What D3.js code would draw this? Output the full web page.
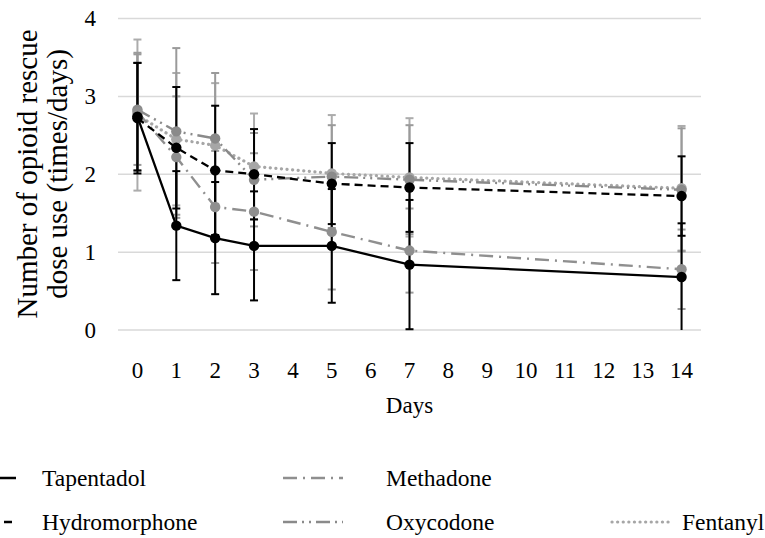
<!DOCTYPE html>
<html lang="en">
<head>
<meta charset="UTF-8">
<title>Opioid rescue dose use</title>
<script src="https://d3js.org/d3.v7.min.js"></script>
<style>
  body { margin: 0; background: #fff; }
</style>
</head>
<body>
<div id="chart"></div>
<script>
    // x categories (days 0..14) and the days that were measured
    const dayTicks = ["0","1","2","3","4","5","6","7","8","9","10","11","12","13","14"];
    const days = ["0","1","2","3","5","7","14"];
    const yTicks = [0, 1, 2, 3, 4];

    // mean rescue doses per day, and the error bar size (SD)
    const tapentadol      = [2.74, 1.34, 1.18, 1.08, 1.08, 0.84, 0.68];
    const tapentadolSd    = [0.69, 0.70, 0.72, 0.70, 0.73, 0.83, 0.69];
    const hydromorphone   = [2.72, 2.34, 2.05, 2.00, 1.88, 1.83, 1.72];
    const hydromorphoneSd = [0.71, 0.78, 0.83, 0.58, 0.52, 0.57, 0.51];
    const methadone       = [2.80, 2.22, 1.58, 1.52, 1.26, 1.02, 0.78];
    const methadoneSd     = [0.76, 0.78, 0.72, 0.75, 0.74, 0.54, 0.51];
    const oxycodone       = [2.83, 2.55, 2.46, 1.93, 1.97, 1.93, 1.80];
    const oxycodoneSd     = [0.71, 1.07, 0.84, 0.60, 0.66, 0.70, 0.79];
    const fentanyl        = [2.76, 2.45, 2.37, 2.10, 2.01, 1.96, 1.82];
    const fentanylSd      = [0.97, 0.85, 0.80, 0.68, 0.75, 0.76, 0.80];

    const width = 765;
    const height = 538;
    const serif = "\"Liberation Serif\"";

    // drawn grey first so black series sit on top, like the original
    const series = [
        { name: "Fentanyl", values: fentanyl, sd: fentanylSd, color: "#a6a6a6", marker: "#a6a6a6", bar: "#acacac", dash: "0.1,5.5", cap: "round", w: 3.2 },
        { name: "Oxycodone", values: oxycodone, sd: oxycodoneSd, color: "#8a8a8a", marker: "#8a8a8a", bar: "#9a9a9a", dash: "14,5,2,5,2,5", cap: "butt", w: 2.4 },
        { name: "Methadone", values: methadone, sd: methadoneSd, color: "#8f8f8f", marker: "#8f8f8f", bar: "#9a9a9a", dash: "14,6,2,6", cap: "butt", w: 2.4 },
        { name: "Hydromorphone", values: hydromorphone, sd: hydromorphoneSd, color: "#000", marker: "#000", bar: "#000", dash: "8,5", cap: "butt", w: 2.3 },
        { name: "Tapentadol", values: tapentadol, sd: tapentadolSd, color: "#000", marker: "#000", bar: "#000", dash: null, cap: "butt", w: 2.3 }
    ];

    const svg = d3.select("#chart")
        .append("svg")
        .attr("width", width)
        .attr("height", height)
        .style("font-family", serif)
        .style("display", "block");

    const x = d3.scaleBand()
        .domain(dayTicks)
        .range([118, 701]);

    const y = d3.scaleLinear()
        .domain([0, 4])
        .range([330, 18.5]);

    const cx = d => x(d) + x.bandwidth() / 2;

    // gridlines
    svg.append("g")
        .selectAll("line")
        .data(yTicks)
        .enter()
        .append("line")
        .attr("x1", 118)
        .attr("x2", 701)
        .attr("y1", d => y(d))
        .attr("y2", d => y(d))
        .attr("stroke", "#d9d9d9")
        .attr("stroke-width", 1.5);

    // y tick labels
    svg.append("g")
        .selectAll("text")
        .data(yTicks)
        .enter()
        .append("text")
        .attr("x", 96)
        .attr("y", d => y(d))
        .attr("dy", "0.33em")
        .attr("text-anchor", "end")
        .style("font-family", serif)
        .attr("font-size", 23)
        .text(d => d);

    // x tick labels
    svg.append("g")
        .selectAll("text")
        .data(dayTicks)
        .enter()
        .append("text")
        .attr("x", d => cx(d))
        .attr("y", 378)
        .attr("text-anchor", "middle")
        .style("font-family", serif)
        .attr("font-size", 23)
        .text(d => d);

    svg.append("text")
        .attr("x", cx("7"))
        .attr("y", 413)
        .attr("text-anchor", "middle")
        .style("font-family", serif)
        .attr("font-size", 23)
        .text("Days");

    // y axis title on two lines
    const yTitle = svg.append("text")
        .attr("transform", "translate(0,174) rotate(-90)")
        .attr("text-anchor", "middle")
        .style("font-family", serif)
        .attr("font-size", 29);
    yTitle.append("tspan").attr("x", 0).attr("y", 37).text("Number of opioid rescue");
    yTitle.append("tspan").attr("x", 0).attr("y", 67).text("dose use (times/days)");

    const line = d3.line()
        .x((d, i) => cx(days[i]))
        .y(d => y(d));

    const clipY = v => Math.max(0, Math.min(4, v));

    // error bars
    series.forEach(s => {
        const g = svg.append("g");
        s.values.forEach((v, i) => {
            const px = cx(days[i]);
            const lo = v - s.sd[i];
            const hi = v + s.sd[i];
            g.append("line")
                .attr("x1", px).attr("x2", px)
                .attr("y1", y(clipY(lo))).attr("y2", y(clipY(hi)))
                .attr("stroke", s.bar).attr("stroke-width", 2);
            [lo, hi].filter(e => e >= 0 && e <= 4).forEach(e => {
                g.append("line")
                    .attr("x1", px - 4).attr("x2", px + 4)
                    .attr("y1", y(e)).attr("y2", y(e))
                    .attr("stroke", s.bar).attr("stroke-width", 2);
            });
        });
    });

    // lines and markers
    series.forEach(s => {
        svg.append("path")
            .datum(s.values)
            .attr("fill", "none")
            .attr("stroke", s.color)
            .attr("stroke-width", s.w)
            .attr("stroke-dasharray", s.dash)
            .attr("stroke-linecap", s.cap)
            .attr("d", line);

        svg.append("g")
            .selectAll("circle")
            .data(s.values)
            .enter()
            .append("circle")
            .attr("cx", (d, i) => cx(days[i]))
            .attr("cy", d => y(d))
            .attr("r", 5.2)
            .attr("fill", s.marker);
    });

    // legend
    const legendItems = [
        { name: "Tapentadol", sx: -44, tx: 42, ly: 478 },
        { name: "Methadone", sx: 283, tx: 386, ly: 478 },
        { name: "Hydromorphone", sx: -48, tx: 42, ly: 522 },
        { name: "Oxycodone", sx: 283, tx: 386, ly: 522 },
        { name: "Fentanyl", sx: 612, tx: 682, ly: 522 }
    ];

    const legend = svg.append("g").attr("class", "legend");
    legendItems.forEach(item => {
        const s = series.find(d => d.name === item.name);
        legend.append("line")
            .attr("x1", item.sx).attr("x2", item.sx + 60)
            .attr("y1", item.ly).attr("y2", item.ly)
            .attr("stroke", s.color)
            .attr("stroke-width", s.w)
            .attr("stroke-dasharray", s.dash)
            .attr("stroke-linecap", s.cap);
        legend.append("text")
            .attr("x", item.tx)
            .attr("y", item.ly)
            .attr("dy", "0.33em")
            .style("font-family", serif)
            .attr("font-size", 23.5)
            .text(item.name);
    });
</script>
</body>
</html>
